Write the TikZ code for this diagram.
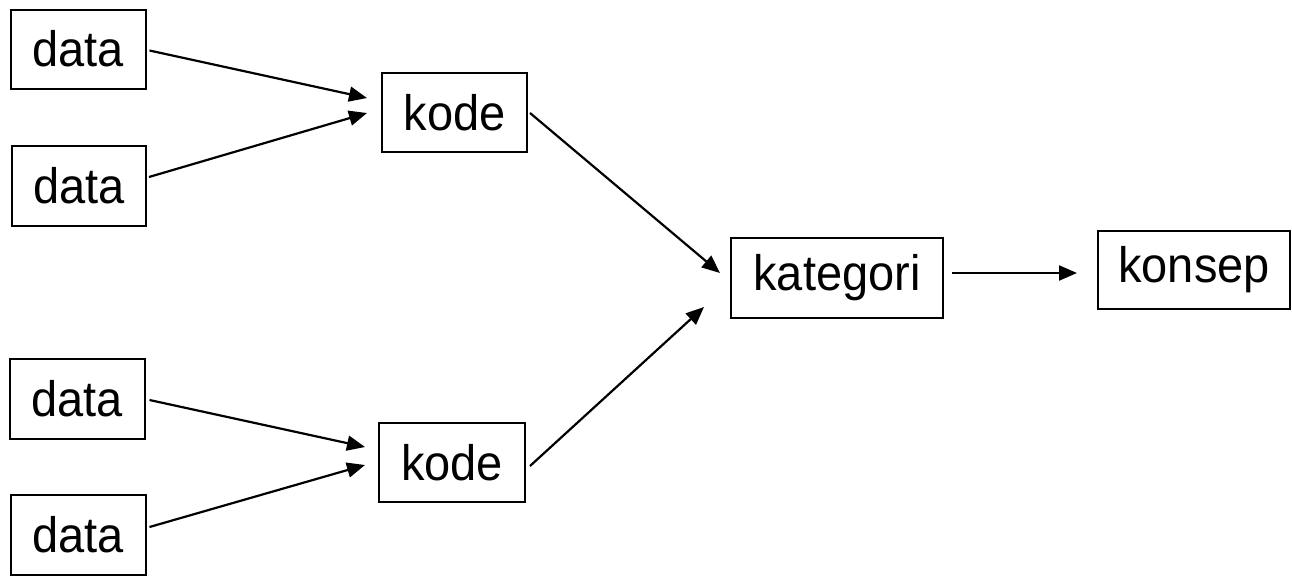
\documentclass[tikz,border=0pt]{standalone}
\usepackage{fontspec}
\setmainfont{Liberation Sans}
\usetikzlibrary{arrows.meta,calc}
\begin{document}
\begin{tikzpicture}[x=1pt,y=-1pt,
  box/.style={draw=black,line width=2pt,inner sep=0pt,font=\fontsize{47}{56}\selectfont},
  conn/.style={line width=2.2pt,-{Triangle[length=18pt,width=15pt]}}]
\useasboundingbox (0,0) rectangle (1292,581);
\node[box,minimum width=135pt,minimum height=79pt] (d1) at (78,49) {\scalebox{1}[1.06]{data}};
\node[box,minimum width=134pt,minimum height=80pt] (d2) at (79,186) {\scalebox{1}[1.06]{data}};
\node[box,minimum width=135pt,minimum height=80pt] (d3) at (77,399) {\scalebox{1}[1.06]{data}};
\node[box,minimum width=135pt,minimum height=80pt] (d4) at (78,535) {\scalebox{1}[1.06]{data}};
\node[box,minimum width=145pt,minimum height=79pt] (k1) at (454.5,112.5) {\scalebox{1}[1.06]{kode}};
\node[box,minimum width=146pt,minimum height=79pt] (k2) at (452,462.5) {\scalebox{1}[1.06]{kode}};
\node[box,minimum width=212pt,minimum height=80pt] (kat) at (837,278) {\scalebox{1}[1.06]{kategori}};
\node[box,minimum width=192pt,minimum height=78pt] (kon) at (1194,270) {\scalebox{1}[1.06]{konsep}};
\draw[conn] ($(d1.east)+(3,1.5)$) -- ($(k1.west)+(-14,-14.5)$);
\draw[conn] ($(d2.east)+(2,-9)$) -- ($(k1.west)+(-14,0.5)$);
\draw[conn] ($(d3.east)+(4,1)$) -- ($(k2.west)+(-13,-15.5)$);
\draw[conn] ($(d4.east)+(3,-8)$) -- ($(k2.west)+(-13,2.5)$);
\draw[conn] ($(k1.east)+(2,0.5)$) -- ($(kat.west)+(-10,-5)$);
\draw[conn] ($(k2.east)+(4,3.5)$) -- ($(kat.west)+(-26,29)$);
\draw[conn] ($(kat.east)+(8,-5)$) -- ($(kon.west)+(-20,3)$);
\end{tikzpicture}
\end{document}
